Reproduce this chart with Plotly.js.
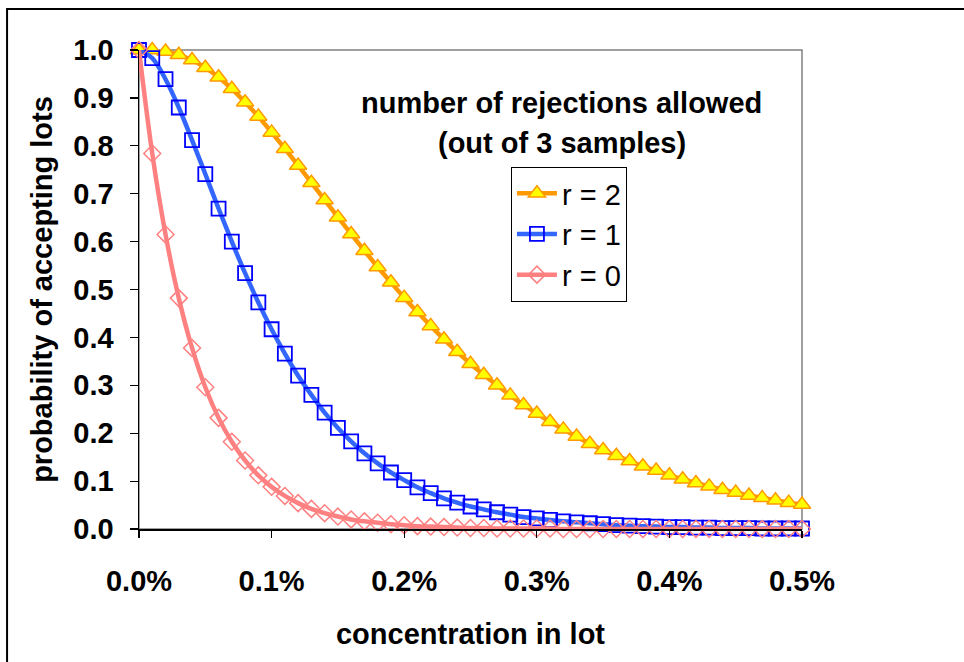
<!DOCTYPE html>
<html>
<head>
<meta charset="utf-8">
<script src="https://cdn.plot.ly/plotly-3.0.1.min.js"></script>
<style>html,body{margin:0;padding:0;background:#fff;}#chart{width:964px;height:662px;}</style>
</head>
<body>
<div id="chart"></div>
<script>
// concentration in lot (%)
const concentration = [0.00,0.01,0.02,0.03,0.04,0.05,0.06,0.07,0.08,0.09,0.10,0.11,0.12,0.13,0.14,0.15,0.16,0.17,0.18,0.19,0.20,0.21,0.22,0.23,0.24,0.25,0.26,0.27,0.28,0.29,0.30,0.31,0.32,0.33,0.34,0.35,0.36,0.37,0.38,0.39,0.40,0.41,0.42,0.43,0.44,0.45,0.46,0.47,0.48,0.49,0.50];

const seriesNames = ["r = 2", "r = 1", "r = 0"];

// r = 2
const r2 = [1.000,1.000,0.997,0.990,0.979,0.963,0.943,0.919,0.891,0.861,0.828,0.794,0.759,0.723,0.687,0.651,0.616,0.581,0.547,0.515,0.483,0.453,0.424,0.396,0.370,0.345,0.322,0.300,0.279,0.259,0.241,0.224,0.208,0.193,0.178,0.165,0.153,0.142,0.131,0.122,0.112,0.104,0.096,0.089,0.082,0.076,0.070,0.065,0.060,0.055,0.051];
// r = 1
const r1 = [1.000,0.983,0.939,0.880,0.812,0.741,0.669,0.600,0.534,0.473,0.417,0.366,0.320,0.280,0.243,0.211,0.183,0.158,0.137,0.118,0.102,0.087,0.075,0.064,0.055,0.047,0.041,0.035,0.030,0.025,0.022,0.019,0.016,0.014,0.012,0.010,0.008,0.007,0.006,0.005,0.004,0.004,0.003,0.003,0.002,0.002,0.002,0.001,0.001,0.001,0.001];
// r = 0
const r0 = [1.000,0.784,0.615,0.482,0.378,0.296,0.232,0.182,0.143,0.112,0.088,0.069,0.054,0.042,0.033,0.026,0.020,0.016,0.013,0.010,0.008,0.006,0.005,0.004,0.003,0.002,0.002,0.001,0.001,0.001,0.001,0.001,0.000,0.000,0.000,0.000,0.000,0.000,0.000,0.000,0.000,0.000,0.000,0.000,0.000,0.000,0.000,0.000,0.000,0.000,0.000];

const xTickVals = [0, 0.1, 0.2, 0.3, 0.4, 0.5];
const xTickText = ["0.0%", "0.1%", "0.2%", "0.3%", "0.4%", "0.5%"];

const FONT = "Liberation Sans, Arial, sans-serif";
const FS = 29;

const traces = [
  {
    x: concentration, y: r2, name: seriesNames[0], type: "scatter", mode: "lines+markers",
    cliponaxis: false,
    line: {color: "#FF9900", width: 4.5, shape: "spline"},
    marker: {symbol: "triangle-up", size: 15, color: "#FFFF00", line: {color: "#FF9900", width: 1.5}}
  },
  {
    x: concentration, y: r1, name: seriesNames[1], type: "scatter", mode: "lines+markers",
    cliponaxis: false,
    line: {color: "#3366FF", width: 4.5, shape: "spline"},
    marker: {symbol: "square-open", size: 14, color: "#0000FF", line: {color: "#0000FF", width: 1.8}}
  },
  {
    x: concentration, y: r0, name: seriesNames[2], type: "scatter", mode: "lines+markers",
    cliponaxis: false,
    line: {color: "#FF8080", width: 4.5, shape: "spline"},
    marker: {symbol: "diamond-open", size: 13, color: "#FF8080", line: {color: "#FF8080", width: 1.5}}
  }
];

const layout = {
  width: 964, height: 662,
  margin: {l: 139, r: 162, t: 50, b: 133, pad: 0},
  paper_bgcolor: "#ffffff", plot_bgcolor: "#ffffff",
  font: {family: FONT, size: FS, color: "#000"},
  showlegend: true,
  legend: {
    x: 0.561, y: 0.756, xanchor: "left", yanchor: "top",
    bgcolor: "#ffffff", bordercolor: "#000000", borderwidth: 1,
    font: {family: FONT, size: FS, color: "#000"},
    traceorder: "normal", itemwidth: 40
  },
  xaxis: {
    range: [0, 0.5], autorange: false,
    tickmode: "array", tickvals: xTickVals, ticktext: xTickText,
    ticks: "outside", ticklen: 7, tickwidth: 1.2, tickcolor: "#000",
    showline: true, linecolor: "#000", linewidth: 1.5,
    showgrid: false, zeroline: false,
    tickfont: {family: FONT, size: FS, weight: "bold", color: "#000"},
    ticklabelstandoff: 19,
    title: {text: "concentration in lot", font: {family: FONT, size: FS, weight: "bold", color: "#000"}, standoff: 27},
    automargin: false
  },
  yaxis: {
    range: [0, 1], autorange: false,
    dtick: 0.1, tick0: 0, tickformat: ".1f",
    ticks: "outside", ticklen: 8, tickwidth: 1.2, tickcolor: "#000",
    showline: true, linecolor: "#000", linewidth: 1.5,
    showgrid: false, zeroline: false,
    tickfont: {family: FONT, size: FS, weight: "bold", color: "#000"},
    ticklabelstandoff: 10,
    title: {text: "probability of accepting lots", font: {family: FONT, size: FS, weight: "bold", color: "#000"}, standoff: 12},
    automargin: false
  },
  shapes: [
    {type: "rect", xref: "paper", yref: "paper", x0: 0, x1: 1, y0: 0, y1: 1,
     line: {color: "#808080", width: 1.5}, layer: "below"},
    {type: "rect", xref: "paper", yref: "paper", x0: -0.199, x1: 1.3, y0: -0.4, y1: 1.0856,
     line: {color: "#000", width: 2}, layer: "below"}
  ],
  annotations: [
    {text: "number of rejections allowed", xref: "paper", yref: "paper", x: 0.638, y: 0.889,
     showarrow: false, xanchor: "center", yanchor: "middle",
     font: {family: FONT, size: FS, weight: "bold", color: "#000"}},
    {text: "(out of 3 samples)", xref: "paper", yref: "paper", x: 0.638, y: 0.806,
     showarrow: false, xanchor: "center", yanchor: "middle",
     font: {family: FONT, size: FS, weight: "bold", color: "#000"}}
  ]
};

Plotly.newPlot("chart", traces, layout, {displayModeBar: false, staticPlot: true});
</script>
</body>
</html>
